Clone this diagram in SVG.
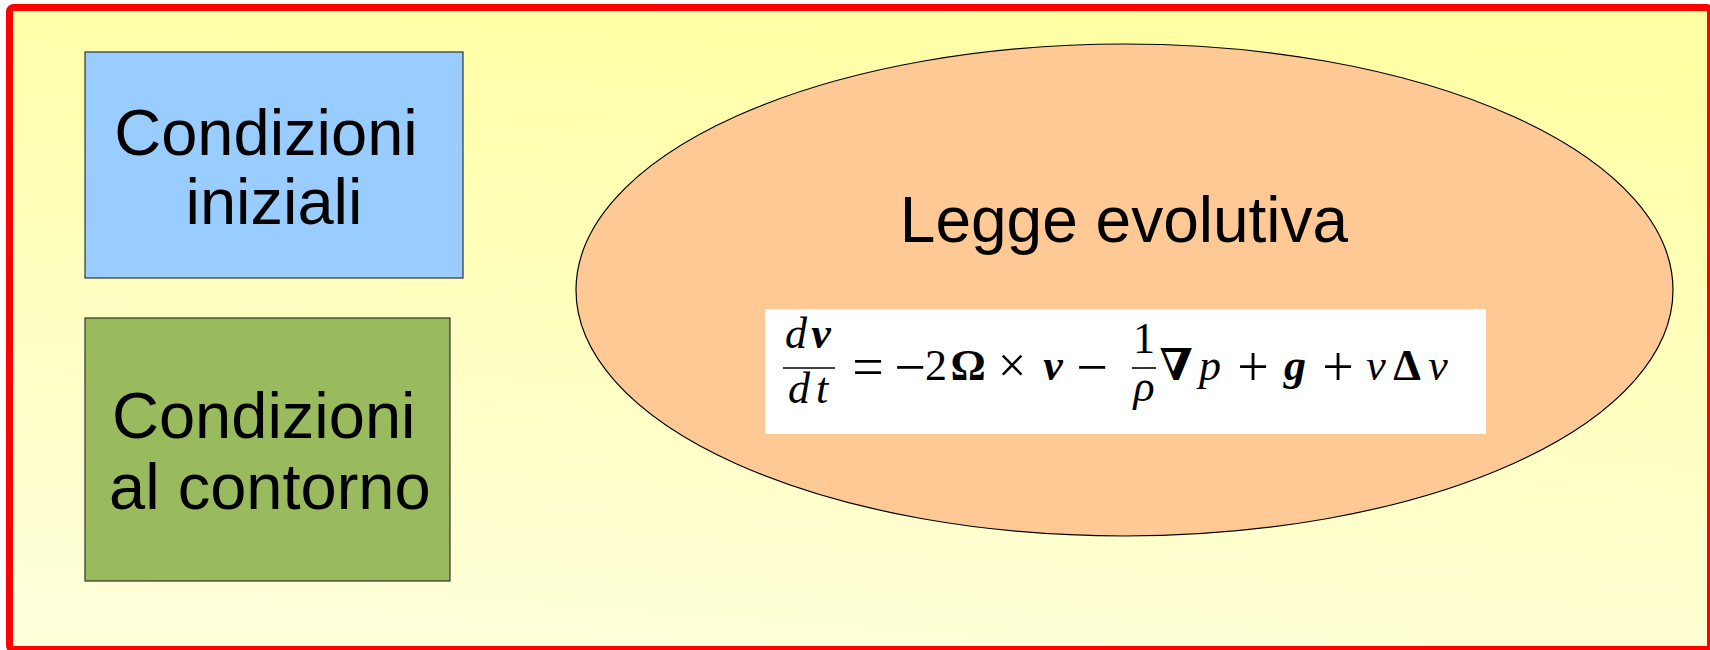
<svg xmlns="http://www.w3.org/2000/svg" width="1710" height="650" viewBox="0 0 1710 650">
  <defs>
    <linearGradient id="bg" x1="0.6" y1="0" x2="0.4" y2="1">
      <stop offset="0" stop-color="#FFFFA4"/>
      <stop offset="1" stop-color="#FFFFDA"/>
    </linearGradient>
  </defs>
  <style>
    .lbl { font-family: "Liberation Sans", Arial, sans-serif; font-size: 65px; fill: #000; }
    .box { stroke: #333; stroke-width: 1.2; }
    .m { font-family: "Liberation Serif", "DejaVu Serif", serif; font-size: 44px; fill: #000; text-anchor: middle; }
    .op { font-size: 56px; }
    .i { font-style: italic; }
    .b { font-weight: bold; }
    .bar { stroke: #000; stroke-width: 1.6; }
  </style>
  <rect id="frame" x="9.5" y="7.5" width="1701" height="642" rx="4" fill="url(#bg)" stroke="#FF0000" stroke-width="7"/>
  <g id="connectors"></g>
  <g id="iniziali">
    <rect class="box" x="85" y="52" width="378" height="226" fill="#99CCFF"/>
    <text class="lbl" x="266" y="155" text-anchor="middle">Condizioni</text>
    <text class="lbl" x="274" y="224" text-anchor="middle">iniziali</text>
  </g>
  <g id="contorno">
    <rect class="box" x="85" y="318" width="365" height="263" fill="#99BB5E"/>
    <text class="lbl" x="112" y="438">Condizioni</text>
    <text class="lbl" x="109" y="509">al contorno</text>
  </g>
  <g id="legge">
    <ellipse cx="1124.5" cy="290" rx="548.5" ry="246" fill="#FFC996" stroke="#000" stroke-width="1.2"/>
    <text class="lbl" x="1124" y="242" text-anchor="middle" style="font-size:64px">Legge evolutiva</text>
    <g id="formula">
      <rect x="765" y="309" width="721" height="125" fill="#FFFFFF"/>
      <text class="m i" x="796" y="348">d</text>
      <text class="m i b" x="821" y="348">v</text>
      <line class="bar" x1="783" y1="368" x2="835" y2="368"/>
      <text class="m i" x="799" y="403">d</text>
      <text class="m i" x="822" y="403">t</text>
      <text class="m op" x="868" y="386">=</text>
      <text class="m op" x="910" y="386">−</text>
      <text class="m" x="936" y="380">2</text>
      <text class="m b" x="968" y="380">Ω</text>
      <text class="m" x="1012" y="382" style="font-size:50px">×</text>
      <text class="m i b" x="1053" y="380">v</text>
      <text class="m op" x="1092" y="386">−</text>
      <text class="m" x="1144" y="353">1</text>
      <line class="bar" x1="1132" y1="368" x2="1156" y2="368"/>
      <text class="m i" x="1144" y="401">ρ</text>
      <text class="m b" x="1176" y="380">∇</text>
      <text class="m i" x="1210" y="380">p</text>
      <text class="m op" x="1253" y="386">+</text>
      <text class="m i b" x="1295" y="380">g</text>
      <text class="m op" x="1338" y="386">+</text>
      <text class="m i" x="1376" y="380">ν</text>
      <text class="m b" x="1407" y="380">Δ</text>
      <text class="m i" x="1438" y="380">v</text>
    </g>
  </g>
</svg>
